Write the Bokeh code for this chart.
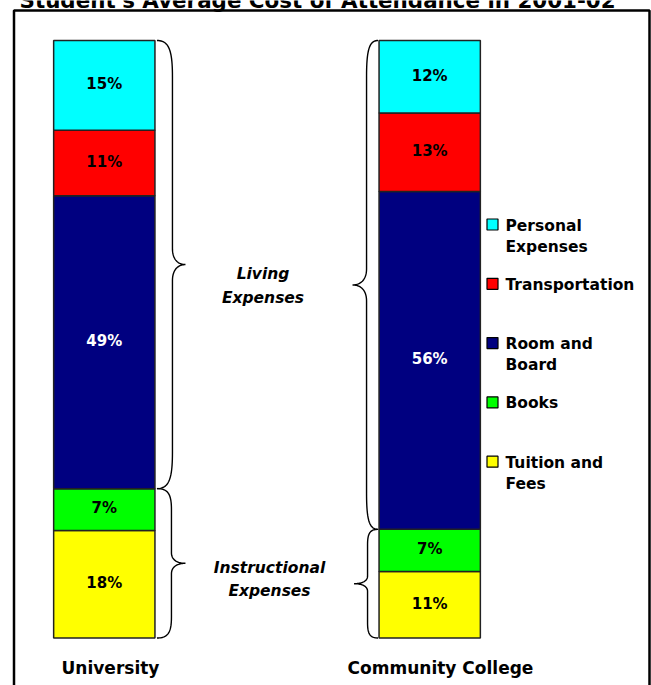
import numpy as np
from bokeh.plotting import figure
from bokeh.models import ColumnDataSource, Range1d
from bokeh.core.properties import value
from bokeh.embed import file_html
from bokeh.resources import INLINE

# ---------------- data ----------------
title = "Student's Average Cost of Attendance in 2001-02"
categories = ["University", "Community College"]
segment_keys = ["tuition", "books", "room_board", "transportation", "personal"]
tuition = [18, 11]
books = [7, 7]
room_board = [49, 56]
transportation = [11, 13]
personal = [15, 12]
seg_colors = ["#FFFF00", "#00FF00", "#000080", "#FF0000", "#00FFFF"]
seg_label_colors = ["black", "black", "white", "black", "black"]
legend_labels = [["Personal", "Expenses"], ["Transportation"], ["Room and", "Board"],
                 ["Books"], ["Tuition and", "Fees"]]
legend_colors = ["#00FFFF", "#FF0000", "#000080", "#00FF00", "#FFFF00"]
living_label = ["Living", "Expenses"]
instr_label = ["Instructional", "Expenses"]

# ---------------- layout (pixel scale) ----------------
W, H = 651, 685
SX, X0PX = 325.4, 103.8     # px per category unit, px of category 0
SY, Y0PX = 5.975, 637.5     # px per percent, px of 0 %
BAR_W_PX = 101.3


def dx(px):
    return (px - X0PX) / SX


def dy(py):
    return (Y0PX - py) / SY


FONT = value("DejaVu Sans")

p = figure(width=W, height=H, x_range=Range1d(dx(0), dx(W)), y_range=Range1d(dy(H), dy(0)),
           output_backend="svg", toolbar_location=None, min_border=0,
           outline_line_color=None, background_fill_color="white")
p.axis.visible = False
p.grid.visible = False

# ---------------- stacked 100% bars ----------------
raw = [tuition, books, room_board, transportation, personal]
totals = [sum(r[i] for r in raw) for i in range(len(categories))]
xs = list(range(len(categories)))
data = {"x": xs}
for k, r in zip(segment_keys, raw):
    data[k] = [r[i] / totals[i] * 100 for i in range(len(categories))]
src = ColumnDataSource(data)
p.vbar_stack(segment_keys, x="x", width=BAR_W_PX / SX, source=src,
             fill_color=seg_colors, line_color="#222222", line_width=1.5)

# segment labels
lx, ly, lt, lc = [], [], [], []
for i in xs:
    bottom = 0.0
    for j, k in enumerate(segment_keys):
        h = data[k][i]
        lx.append(i)
        ly.append(bottom + h / 2 + 1.2 / SY)
        lt.append(f"{raw[j][i]}%")
        lc.append(seg_label_colors[j])
        bottom += h
p.text(x=lx, y=ly, text=lt, text_color=lc, text_align="center", text_baseline="middle",
       text_font=FONT, text_font_style="bold", text_font_size="15px")


# ---------------- braces ----------------
def cubic(p0, p1, p2, p3, n=24):
    t = np.linspace(0, 1, n)[:, None]
    p0, p1, p2, p3 = map(np.array, (p0, p1, p2, p3))
    return (1 - t) ** 3 * p0 + 3 * (1 - t) ** 2 * t * p1 + 3 * (1 - t) * t ** 2 * p2 + t ** 3 * p3


def brace(xb, xv, xt, y_lo, y_hi):
    top = Y0PX - y_hi * SY
    bot = Y0PX - y_lo * SY
    span = bot - top
    hook = min(36, 0.14 * span)
    tip = min(16, 0.07 * span)
    mid = (top + bot) / 2
    xm = xb + 0.75 * (xv - xb)
    xq = xv + 0.4 * (xt - xv)
    pts = np.vstack([
        cubic((xb, top), (xm, top), (xv, top + 0.25 * hook), (xv, top + hook)),
        cubic((xv, mid - tip), (xv, mid - 0.35 * tip), (xq, mid), (xt, mid)),
        cubic((xt, mid), (xq, mid), (xv, mid + 0.35 * tip), (xv, mid + tip)),
        cubic((xv, bot - hook), (xv, bot - 0.25 * hook), (xm, bot), (xb, bot)),
    ])
    p.line(x=[dx(v) for v in pts[:, 0]], y=[dy(v) for v in pts[:, 1]],
           line_color="black", line_width=1.4)


instr_share = [data["tuition"][i] + data["books"][i] for i in xs]
uni_edge = X0PX + BAR_W_PX / 2
cc_edge = X0PX + SX - BAR_W_PX / 2
brace(uni_edge + 2, uni_edge + 17.5, uni_edge + 30.5, instr_share[0], 100)
brace(uni_edge + 2, uni_edge + 16.5, uni_edge + 30.5, 0, instr_share[0])
brace(cc_edge - 1, cc_edge - 12.5, cc_edge - 26.5, instr_share[1], 100)
brace(cc_edge - 1, cc_edge - 11.5, cc_edge - 25, 0, instr_share[1])

# group labels
p.text(x=[dx(262.5)] * 2, y=[dy(273.8), dy(297.3)], text=living_label, text_align="center",
       text_baseline="middle", text_font=FONT, text_font_style="bold italic",
       text_font_size="15.5px", text_color="black")
p.text(x=[dx(269)] * 2, y=[dy(567.3), dy(590.3)], text=instr_label, text_align="center",
       text_baseline="middle", text_font=FONT, text_font_style="bold italic",
       text_font_size="15.5px", text_color="black")

# ---------------- legend ----------------
sq_x, sq_y = [], []
tx, ty, tt = [], [], []
for k, lines in enumerate(legend_labels):
    cy = 224 + k * 59.3
    sq_x.append(dx(492))
    sq_y.append(dy(cy))
    for m, line in enumerate(lines):
        tx.append(dx(505))
        ty.append(dy(cy + 1 + m * 21))
        tt.append(line)
p.scatter(x=sq_x, y=sq_y, marker="square", size=11, fill_color=legend_colors,
          line_color="black", line_width=1.2)
p.text(x=tx, y=ty, text=tt, text_align="left", text_baseline="middle", text_font=FONT,
       text_font_style="bold", text_font_size="15.5px", text_color="black")

# ---------------- category labels ----------------
p.text(x=[dx(110), dx(440)], y=[dy(667.3)] * 2, text=categories, text_align="center",
       text_baseline="middle", text_font=FONT, text_font_style="bold",
       text_font_size="17px", text_color="black")

# ---------------- frame & title ----------------
p.line(x=[dx(13.5), dx(13.5), dx(649), dx(649)], y=[dy(H + 20), dy(10), dy(10), dy(H + 20)],
       line_color="black", line_width=2.5)
p.text(x=[dx(19)], y=[dy(0)], text=[title], text_align="left", text_baseline="middle",
       text_font=FONT, text_font_style="bold", text_font_size="21.4px", text_color="black")

open("out.html", "w").write(file_html(p, INLINE))
